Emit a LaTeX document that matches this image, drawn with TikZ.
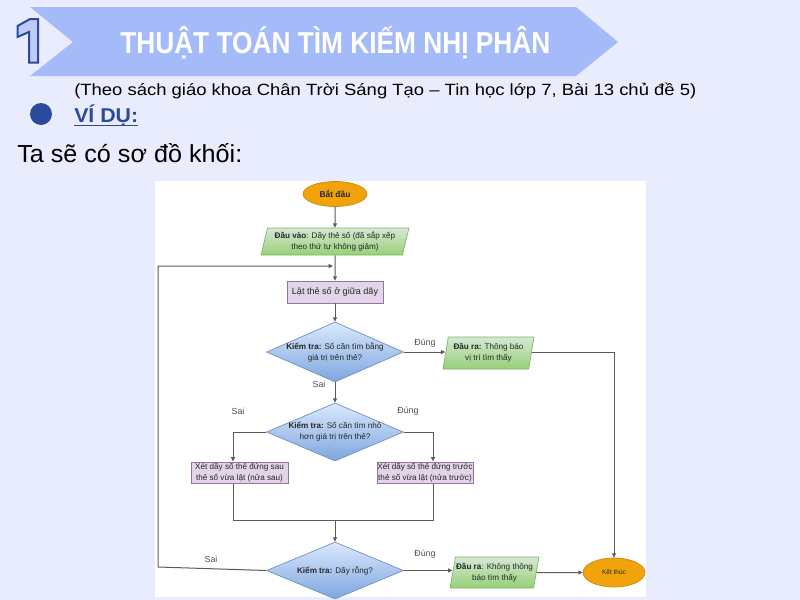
\documentclass[tikz,border=0pt]{standalone}
\usepackage{fontspec}
\setmainfont{Liberation Sans}
\usepackage{graphicx}
\usetikzlibrary{shapes.geometric,arrows.meta}
\definecolor{bg}{HTML}{E8ECFC}
\definecolor{banner}{HTML}{A5BAF8}
\definecolor{navy}{HTML}{2B4A9C}
\definecolor{onefill}{HTML}{BCCBF8}
\definecolor{orfill}{HTML}{F0A30A}
\definecolor{ordraw}{HTML}{C98A0C}
\definecolor{gtop}{HTML}{D5E8D4}
\definecolor{gbot}{HTML}{97D077}
\definecolor{gdraw}{HTML}{82B366}
\definecolor{pfill}{HTML}{E1D5E7}
\definecolor{pdraw}{HTML}{9673A6}
\definecolor{btop}{HTML}{DAE8FC}
\definecolor{bbot}{HTML}{7EA6E0}
\definecolor{bdraw}{HTML}{6C8EBF}
\definecolor{wire}{HTML}{5A5A5A}
\definecolor{lbl}{HTML}{4D4D4D}
\begin{document}
\begin{tikzpicture}[x=0.75pt,y=-0.75pt,
  fc/.style={font=\fontsize{6.1}{8.25}\selectfont, align=center, inner sep=0pt, text=black!85},
  term/.style={fc, ellipse, fill=orfill, draw=ordraw, line width=0.5pt},
  iobox/.style={fc, trapezium, trapezium stretches body, draw=gdraw, line width=0.5pt, top color=gtop, bottom color=gbot},
  procbox/.style={fc, rectangle, fill=pfill, draw=pdraw, line width=0.5pt},
  decis/.style={fc, diamond, aspect=2.28, inner sep=-2.5pt, draw=bdraw, line width=0.5pt, top color=btop, bottom color=bbot, minimum width=102.75pt},
  wirel/.style={draw=wire, line width=0.75pt},
  arr/.style={wirel, -{Triangle[length=3.3pt,width=3pt]}},
  lab/.style={font=\fontsize{6.6}{8}\selectfont, text=lbl, inner sep=0pt}
]
\useasboundingbox (0,0) rectangle (800,600);
\fill[bg] (0,0) rectangle (800,600);
% header banner
\fill[banner] (30,7) -- (576,7) -- (618,42) -- (576,76) -- (30,76) -- (73,42) -- cycle;
\path[fill=onefill, draw=navy, line width=1.5pt, line join=miter]
  (17.5,26) -- (30,19) -- (38,19) -- (38,62.5) -- (29,62.5) -- (29,32) -- (17.5,37) -- cycle;
\node[anchor=base west, inner sep=0pt, text=white, font=\bfseries\fontsize{22.7}{24}\selectfont] (title) at (120,53)
  {\resizebox{322.5pt}{\height}{THUẬT TOÁN TÌM KIẾM NHỊ PHÂN}};
\node[anchor=base west, inner sep=0pt, text=black, font=\fontsize{12.2}{14}\selectfont] (sub) at (74,95)
  {\resizebox{466.5pt}{\height}{(Theo sách giáo khoa Chân Trời Sáng Tạo – Tin học lớp 7, Bài 13 chủ đề 5)}};
\fill[navy] (41,114) circle[radius=11];
\node[anchor=base west, inner sep=0pt, text=navy, font=\bfseries\fontsize{15}{17}\selectfont] (vidu) at (74,122.5)
  {\resizebox{48pt}{\height}{VÍ DỤ:}};
\draw[navy, line width=1.2pt] (74,125.5) -- (138,125.5);
\node[anchor=base west, inner sep=0pt, text=black, font=\fontsize{18.5}{20}\selectfont] (intro) at (17,162)
  {\resizebox{168.75pt}{\height}{Ta sẽ có sơ đồ khối:}};
% panel
\fill[white] (155,181) rectangle (646,597);
% nodes
\node[term, minimum width=48pt, minimum height=18.75pt, font=\bfseries\fontsize{6.3}{8}\selectfont] (start) at (335,194) {Bắt đầu};
\node[iobox, trapezium left angle=71.6, trapezium right angle=108.4, minimum width=111pt, minimum height=20.25pt] (inp) at (335,241.5)
  {\textbf{Đầu vào}: Dãy thẻ số (đã sắp xếp\\theo thứ tự không giảm)};
\node[procbox, minimum width=72pt, minimum height=16.5pt, font=\fontsize{6.8}{8}\selectfont] (lat) at (335,292) {Lật thẻ số ở giữa dãy};
\node[decis, minimum height=45pt] (d1) at (335,352) {\textbf{Kiểm tra:} Số cần tìm bằng\\giá trị trên thẻ?};
\node[iobox, trapezium left angle=74.3, trapezium right angle=105.7, minimum width=68.25pt, minimum height=24pt] (out1) at (488.5,353)
  {\textbf{Đầu ra:} Thông báo\\vị trí tìm thấy};
\node[decis, minimum height=43.5pt] (d2) at (335,432) {\textbf{Kiểm tra:} Số cần tìm nhỏ\\hơn giá trị trên thẻ?};
\node[procbox, minimum width=72.75pt, minimum height=15.75pt] (lbox) at (239.5,472.5) {Xét dãy số thẻ đứng sau\\thẻ số vừa lật (nửa sau)};
\node[procbox, minimum width=72pt, minimum height=15.75pt] (rbox) at (425,472.5) {Xét dãy số thẻ đứng trước\\thẻ số vừa lật (nửa trước)};
\node[decis, minimum height=42.75pt] (d3) at (335,570.5) {\textbf{Kiểm tra:} Dãy rỗng?};
\node[iobox, trapezium left angle=73.8, trapezium right angle=106.2, minimum width=66.75pt, minimum height=23.25pt] (out2) at (494.5,572.5)
  {\textbf{Đầu ra}: Không thông\\báo tìm thấy};
\node[term, minimum width=46.5pt, minimum height=21.75pt, font=\fontsize{4.9}{6}\selectfont] (endn) at (614,572.5) {Kết thúc};
% helper coordinates
\coordinate (j1) at (333,266);
\coordinate (lp1) at (158,567);
\coordinate (lp2) at (158,266);
\coordinate (ml) at (233,520);
\coordinate (mr) at (433,520);
\coordinate (mm) at (335,520);
\coordinate (la) at (233,461.5);
\coordinate (ra) at (433,461.5);
\coordinate (lb) at (233,483.5);
\coordinate (rb) at (433,483.5);
% connectors
\draw[arr] (start.south) -- (inp.north);
\draw[arr] (inp.south) -- (lat.north);
\draw[arr] (d3.west) -- (lp1) -- (lp2) -- (j1);
\draw[arr] (lat.south) -- (d1.north);
\draw[arr] (d1.east) -- (out1.west |- d1.east);
\draw[arr] (out1.east |- 0,352) -| (endn.north);
\draw[arr] (d1.south) -- (d2.north);
\draw[arr] (d2.west) -| (la);
\draw[arr] (d2.east) -| (ra);
\draw[wirel] (lb) -- (ml) -- (mr) -- (rb);
\draw[arr] (mm) -- (d3.north);
\draw[arr] (d3.east) -- (out2.west |- d3.east);
\draw[arr] (out2.east) -- (endn.west);
% labels
\node[lab] (l1) at (425,343) {Đúng};
\node[lab] (l2) at (319,384) {Sai};
\node[lab] (l3) at (238,411) {Sai};
\node[lab] (l4) at (408,411) {Đúng};
\node[lab] (l5) at (211,559) {Sai};
\node[lab] (l6) at (425,554) {Đúng};
\end{tikzpicture}
\end{document}
